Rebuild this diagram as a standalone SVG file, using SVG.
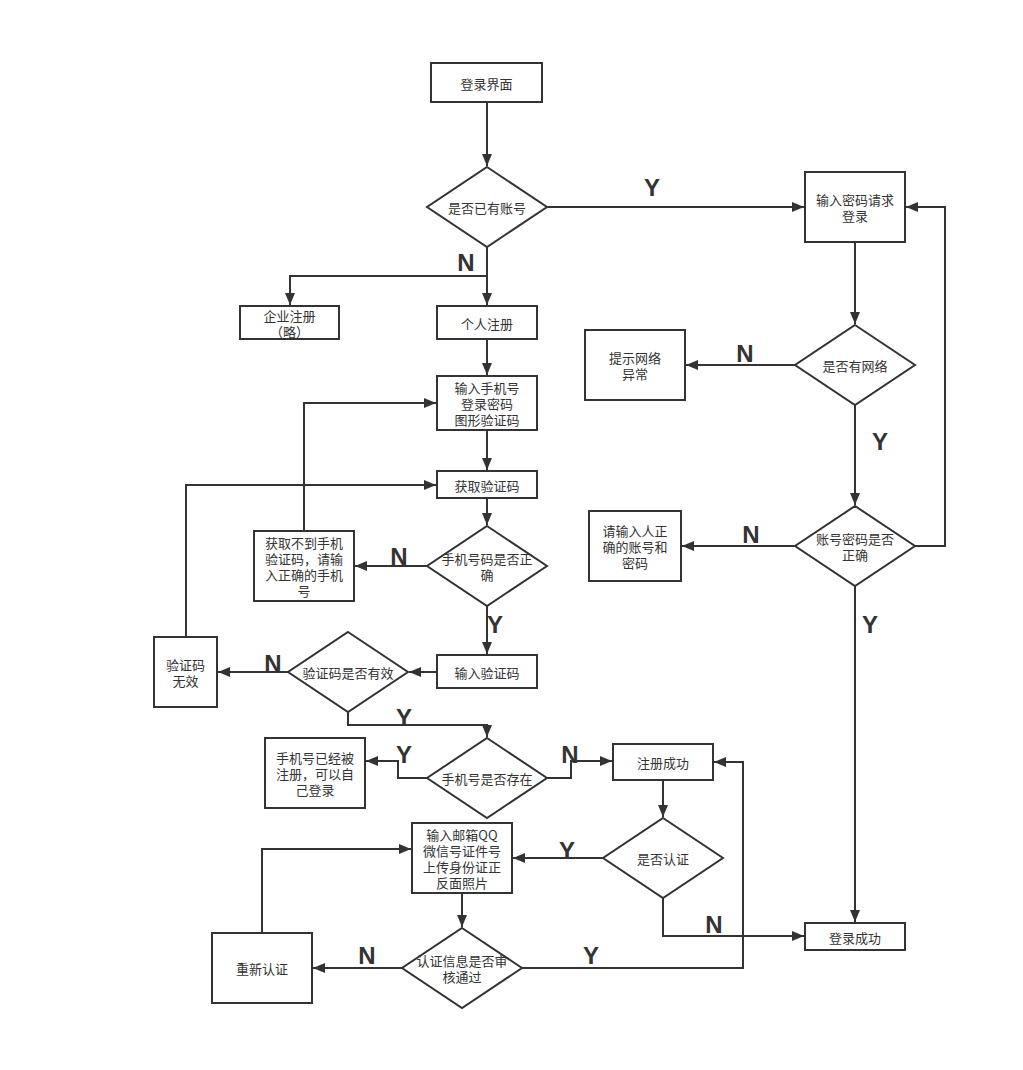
<svg xmlns="http://www.w3.org/2000/svg" width="1023" height="1070" viewBox="0 0 1023 1070">
<defs>
<marker id="arr" markerUnits="userSpaceOnUse" markerWidth="12" markerHeight="10" refX="12" refY="5" orient="auto">
<path d="M0,0 L12,5 L0,10 z" fill="#333"/>
</marker>
<style>
.n{fill:#fff;stroke:#333;stroke-width:2}
.t{font-family:"Noto Sans CJK SC","Noto Sans",sans-serif;font-size:13px;fill:#333;text-anchor:middle;dominant-baseline:central}
.c{fill:none;stroke:#333;stroke-width:2;marker-end:url(#arr)}
.c0{fill:none;stroke:#333;stroke-width:2}
.l{font-family:"Liberation Sans",Arial,sans-serif;font-size:24px;font-weight:bold;fill:#333;text-anchor:middle;dominant-baseline:central}
</style>
</defs>
<rect width="1023" height="1070" fill="#fff"/>
<g id="connectors">
<path class="c" d="M487,102 V166"/>
<path class="c" d="M547,207 H804"/>
<path class="c" d="M487,247 V305"/>
<path class="c" d="M487,276 H290 V305"/>
<path class="c" d="M487,339 V375"/>
<path class="c" d="M487,430 V470"/>
<path class="c" d="M487,498 V525"/>
<path class="c" d="M427,566 H355"/>
<path class="c" d="M304,531 V403 H436"/>
<path class="c" d="M487,606 V654"/>
<path class="c" d="M437,672 H409"/>
<path class="c" d="M288,672 H218"/>
<path class="c" d="M186,637 V485 H436"/>
<path class="c" d="M348,712 V725 H487 V737"/>
<path class="c" d="M427,778 H398 V761 H366"/>
<path class="c" d="M547,778 H571 V761 H612"/>
<path class="c" d="M663,780 V817"/>
<path class="c" d="M603,858 H513"/>
<path class="c" d="M663,898 V936 H804"/>
<path class="c" d="M462,893 V927"/>
<path class="c" d="M402,968 H313"/>
<path class="c" d="M522,968 H743 V762 H714"/>
<path class="c" d="M262,933 V849 H411"/>
<path class="c" d="M855,242 V324"/>
<path class="c" d="M795,365 H686"/>
<path class="c" d="M855,405 V505"/>
<path class="c" d="M795,546 H682"/>
<path class="c" d="M915,546 H945 V207 H906"/>
<path class="c" d="M855,586 V922"/>
<text class="l" x="652" y="187">Y</text>
<text class="l" x="466" y="262">N</text>
<text class="l" x="399" y="556">N</text>
<text class="l" x="495" y="624">Y</text>
<text class="l" x="273" y="663">N</text>
<text class="l" x="404" y="717">Y</text>
<text class="l" x="404" y="754">Y</text>
<text class="l" x="570" y="754">N</text>
<text class="l" x="567" y="850">Y</text>
<text class="l" x="714" y="924">N</text>
<text class="l" x="367" y="955">N</text>
<text class="l" x="591" y="955">Y</text>
<text class="l" x="745" y="353">N</text>
<text class="l" x="880" y="441">Y</text>
<text class="l" x="751" y="534">N</text>
<text class="l" x="870" y="624">Y</text>
</g>
<g id="n1"><rect class="n" x="431" y="63" width="111" height="39"/><text class="t" x="486.5" y="83">登录界面</text></g>
<g id="n2"><polygon class="n" points="487,167 547,207 487,247 427,207"/><text class="t" x="487" y="207">是否已有账号</text></g>
<g id="n3"><rect class="n" x="805" y="172" width="100" height="70"/><text class="t" x="855" y="199">输入密码请求</text><text class="t" x="855" y="215">登录</text></g>
<g id="n4"><rect class="n" x="240" y="306" width="99" height="33"/><text class="t" x="289.5" y="315">企业注册</text><text class="t" x="289.5" y="331">（略）</text></g>
<g id="n5"><rect class="n" x="437" y="306" width="100" height="33"/><text class="t" x="487" y="323">个人注册</text></g>
<g id="n6"><rect class="n" x="437" y="376" width="100" height="54"/><text class="t" x="487" y="387">输入手机号</text><text class="t" x="487" y="403">登录密码</text><text class="t" x="487" y="419">图形验证码</text></g>
<g id="n7"><rect class="n" x="437" y="471" width="100" height="27"/><text class="t" x="487" y="485">获取验证码</text></g>
<g id="n8"><polygon class="n" points="487,526 547,566 487,606 427,566"/><text class="t" x="487" y="558">手机号码是否正</text><text class="t" x="487" y="574">确</text></g>
<g id="n9"><rect class="n" x="254" y="531" width="100" height="70"/><text class="t" x="304" y="542">获取不到手机</text><text class="t" x="304" y="558">验证码，请输</text><text class="t" x="304" y="574">入正确的手机</text><text class="t" x="304" y="590">号</text></g>
<g id="n10"><rect class="n" x="154" y="637" width="63" height="70"/><text class="t" x="185.5" y="664">验证码</text><text class="t" x="185.5" y="680">无效</text></g>
<g id="n11"><polygon class="n" points="348,632 408,672 348,712 288,672"/><text class="t" x="348" y="672">验证码是否有效</text></g>
<g id="n12"><rect class="n" x="437" y="655" width="100" height="33"/><text class="t" x="487" y="672">输入验证码</text></g>
<g id="n13"><polygon class="n" points="487,738 547,778 487,818 427,778"/><text class="t" x="487" y="778">手机号是否存在</text></g>
<g id="n14"><rect class="n" x="265" y="738" width="100" height="70"/><text class="t" x="315" y="757">手机号已经被</text><text class="t" x="315" y="773">注册，可以自</text><text class="t" x="315" y="789">己登录</text></g>
<g id="n15"><rect class="n" x="613" y="744" width="100" height="36"/><text class="t" x="663" y="762">注册成功</text></g>
<g id="n16"><polygon class="n" points="663,818 723,858 663,898 603,858"/><text class="t" x="663" y="858">是否认证</text></g>
<g id="n17"><rect class="n" x="412" y="823" width="100" height="70"/><text class="t" x="462" y="834">输入邮箱QQ</text><text class="t" x="462" y="850">微信号证件号</text><text class="t" x="462" y="866">上传身份证正</text><text class="t" x="462" y="882">反面照片</text></g>
<g id="n18"><polygon class="n" points="462,928 522,968 462,1008 402,968"/><text class="t" x="462" y="960">认证信息是否审</text><text class="t" x="462" y="976">核通过</text></g>
<g id="n19"><rect class="n" x="212" y="933" width="100" height="70"/><text class="t" x="262" y="968">重新认证</text></g>
<g id="n20"><rect class="n" x="805" y="923" width="100" height="27"/><text class="t" x="855" y="937">登录成功</text></g>
<g id="n21"><rect class="n" x="585" y="330" width="100" height="70"/><text class="t" x="635" y="357">提示网络</text><text class="t" x="635" y="373">异常</text></g>
<g id="n22"><polygon class="n" points="855,325 915,365 855,405 795,365"/><text class="t" x="855" y="365">是否有网络</text></g>
<g id="n23"><polygon class="n" points="855,506 915,546 855,586 795,546"/><text class="t" x="855" y="538">账号密码是否</text><text class="t" x="855" y="554">正确</text></g>
<g id="n24"><rect class="n" x="589" y="511" width="92" height="70"/><text class="t" x="635" y="530">请输入人正</text><text class="t" x="635" y="546">确的账号和</text><text class="t" x="635" y="562">密码</text></g>
</svg>
